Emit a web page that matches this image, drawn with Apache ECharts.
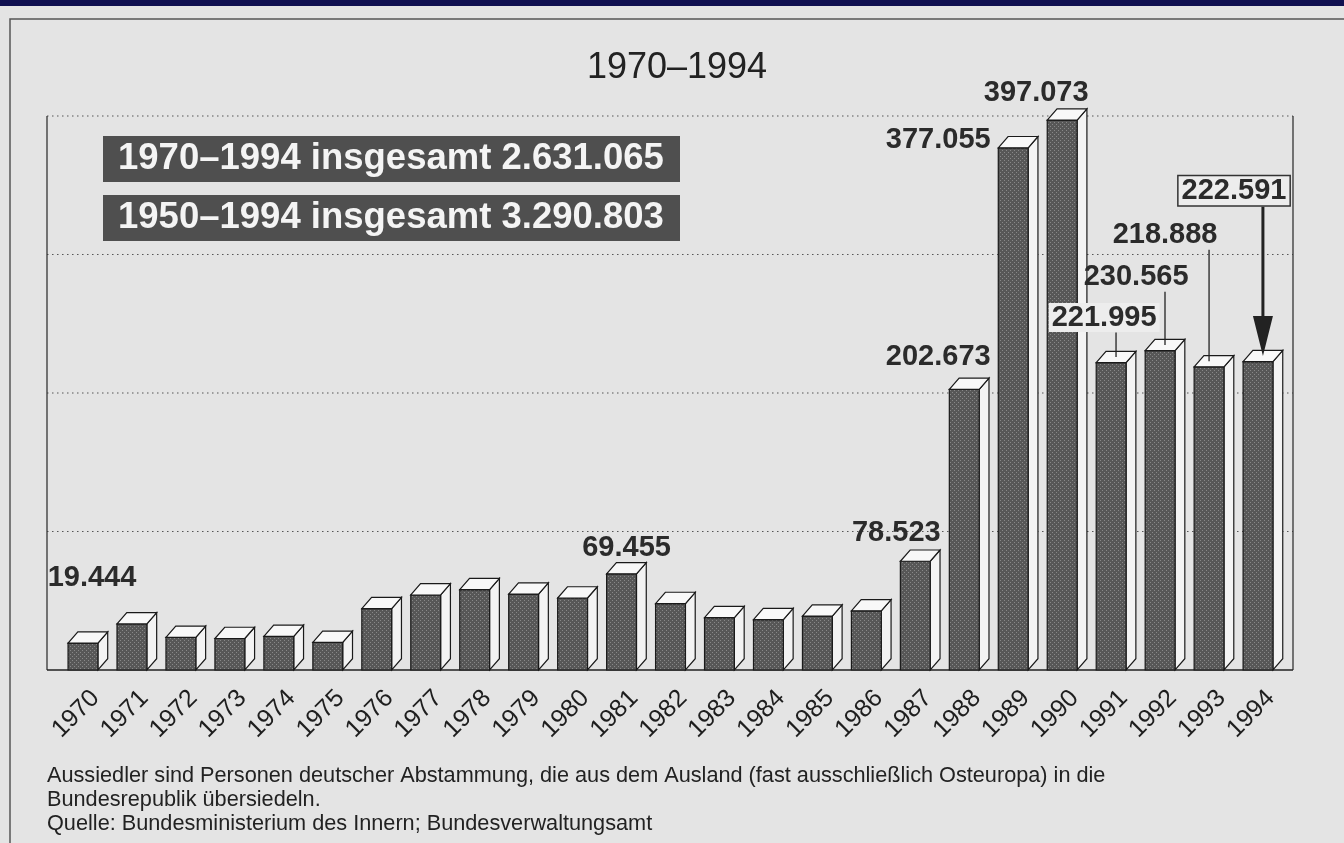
<!DOCTYPE html>
<html><head><meta charset="utf-8">
<script src="https://cdn.jsdelivr.net/npm/echarts@6/dist/echarts.min.js"></script>
<style>html,body{margin:0;padding:0;background:#e4e4e4;} #c{width:1344px;height:843px;}</style>
</head><body><div id="c"></div>
<script>
// ---- data ----
const years = ['1970','1971','1972','1973','1974','1975','1976','1977','1978','1979','1980','1981','1982','1983','1984','1985','1986','1987','1988','1989','1990','1991','1992','1993','1994'];
const aussiedler = [19444, 33272, 23580, 22732, 24315, 19940, 44248, 54169, 58062, 54802, 51984, 69455, 47993, 37844, 36387, 38905, 42729, 78523, 202673, 377055, 397073, 221995, 230565, 218888, 222591];
const yTicks = [0, 100000, 200000, 300000, 400000];
const titleText = '1970–1994';
const totals = ['1970–1994 insgesamt 2.631.065', '1950–1994 insgesamt 3.290.803'];
const notes = [
  'Aussiedler sind Personen deutscher Abstammung, die aus dem Ausland (fast ausschließlich Osteuropa) in die',
  'Bundesrepublik übersiedeln.',
  'Quelle: Bundesministerium des Innern; Bundesverwaltungsamt'
];

// ---- styles (label placement relative to bar top centre) ----
const FONT = 'Liberation Sans, Arial, Helvetica, sans-serif';
const labelStyle = {
  '1970': {dx: 9, dy: -65},
  '1981': {dx: 5, dy: -26},
  '1987': {dx: -19, dy: -28},
  '1988': {dx: -26, dy: -32},
  '1989': {dx: -75, dy: -8},
  '1990': {dx: -26, dy: -27},
  '1991': {dx: -7, dy: -45, box: 'plain', leader: true},
  '1992': {dx: -24, dy: -74, leader: true},
  '1993': {dx: -44, dy: -132, leader: true, leaderDx: 0},
  '1994': {dx: -24, dy: -171, box: 'border', arrow: true}
};
const tickLabelStyle = {dx: 12.6, dy: 24.4, font: '25px ' + FONT, fill: '#1e1e1e'};

function makePattern() {
  const c = document.createElement('canvas');
  c.width = 4; c.height = 4;
  const g = c.getContext('2d');
  g.fillStyle = '#575757'; g.fillRect(0, 0, 4, 4);
  g.fillStyle = '#888888';
  g.fillRect(0, 0, 1, 1); g.fillRect(2, 2, 1, 1);
  return {image: c, repeat: 'repeat'};
}
const pattern = makePattern();

const chart = echarts.init(document.getElementById('c'));

function renderItem(params, api) {
  const i = api.value(0), v = api.value(1);
  const base = api.coord([i, 0]);
  const top = api.coord([i, v]);
  const band = api.size([1, 0])[0];
  const w = band * 0.61, dx = band * 0.2, dy = band * 0.23;
  const cx = base[0], x0 = cx - w / 2, x1 = cx + w / 2, yb = base[1], yt = top[1];
  const edge = {stroke: '#1a1a1a', lineWidth: 1.2};
  const yr = years[i];
  const children = [
    {type: 'polygon', shape: {points: [[x1, yt], [x1 + dx, yt - dy], [x1 + dx, yb - dy], [x1, yb]]}, style: Object.assign({fill: '#f3f3f3'}, edge)},
    {type: 'rect', shape: {x: x0, y: yt, width: w, height: yb - yt}, style: Object.assign({fill: pattern}, edge)},
    {type: 'polygon', shape: {points: [[x0, yt], [x1, yt], [x1 + dx, yt - dy], [x0 + dx, yt - dy]]}, style: Object.assign({fill: '#f8f8f8'}, edge)},
    // category (year) label, rotated 45°
    {type: 'text', x: cx + tickLabelStyle.dx, y: yb + tickLabelStyle.dy, rotation: Math.PI / 4,
     style: {text: yr, font: tickLabelStyle.font, fill: tickLabelStyle.fill, align: 'right', verticalAlign: 'middle'}}
  ];
  const ls = labelStyle[yr];
  if (ls) {
    const lx = cx + ls.dx, ly = yt + ls.dy;
    const topCx = cx + (ls.leaderDx !== undefined ? ls.leaderDx : dx / 2), topCy = yt - dy / 2;
    if (ls.leader) {
      children.push({type: 'line', shape: {x1: topCx, y1: ly + 15, x2: topCx, y2: topCy}, style: {stroke: '#222', lineWidth: 1.3}});
    }
    if (ls.arrow) {
      children.push({type: 'line', shape: {x1: topCx, y1: ly + 16, x2: topCx, y2: topCy - 30}, style: {stroke: '#222', lineWidth: 3}});
      children.push({type: 'polygon', shape: {points: [[topCx - 10, topCy - 40], [topCx + 10, topCy - 40], [topCx, topCy]]}, style: {fill: '#222'}});
    }
    const txt = {
      type: 'text', x: lx, y: ly, z2: 10,
      style: {
        text: v.toLocaleString('de-DE'), font: 'bold 29px ' + FONT, fill: '#2b2b2b',
        align: 'center', verticalAlign: 'middle'
      }
    };
    if (ls.box) {
      txt.style.backgroundColor = '#ededed';
      txt.style.padding = [1, 3, -1, 3];
      if (ls.box === 'border') { txt.style.borderColor = '#333'; txt.style.borderWidth = 1.5; }
    }
    children.push(txt);
  }
  return {type: 'group', children: children};
}

const option = {
  backgroundColor: '#e4e4e4',
  animation: false,
  grid: {left: 58.5, right: 61.5, top: 116, bottom: 173},
  xAxis: {
    type: 'category', data: years,
    axisLine: {show: false}, axisTick: {show: false}, axisLabel: {show: false}
  },
  yAxis: {
    type: 'value', min: yTicks[0], max: yTicks[yTicks.length - 1], interval: yTicks[1] - yTicks[0],
    axisLabel: {show: false}, axisLine: {show: false}, axisTick: {show: false}, splitLine: {show: false}
  },
  series: [{
    type: 'custom', z: 5, clip: false,
    data: aussiedler.map((v, i) => [i, v]),
    encode: {x: 0, y: 1},
    renderItem: renderItem
  }]
};
chart.setOption(option);

// frame, gridlines and text furniture
const frameL = 47, frameR = 1293;
const yPix = yTicks.map(v => chart.convertToPixel({yAxisIndex: 0}, v));
const g = [];
g.push({type: 'rect', shape: {x: 0, y: 0, width: 1344, height: 6}, style: {fill: '#101050'}, z: 1});
g.push({type: 'polyline', shape: {points: [[10, 843], [10, 19], [1344, 19]]}, style: {stroke: '#555', lineWidth: 1.5, fill: null}, z: 1});
yPix.forEach((y, k) => {
  if (k === 0) return;
  g.push({type: 'line', shape: {x1: frameL, y1: y, x2: frameR, y2: y}, style: {stroke: '#555', lineWidth: 1, lineDash: [1.5, 3.5]}, z: 1});
});
g.push({type: 'line', shape: {x1: frameL, y1: yPix[yPix.length - 1], x2: frameL, y2: yPix[0]}, style: {stroke: '#333', lineWidth: 1.3}, z: 1});
g.push({type: 'line', shape: {x1: frameR, y1: yPix[yPix.length - 1], x2: frameR, y2: yPix[0]}, style: {stroke: '#333', lineWidth: 1.3}, z: 1});
g.push({type: 'line', shape: {x1: frameL, y1: yPix[0], x2: frameR, y2: yPix[0]}, style: {stroke: '#222', lineWidth: 1.5}, z: 1});
g.push({type: 'text', x: 677, y: 68, style: {text: titleText, font: '36px ' + FONT, fill: '#222', align: 'center', verticalAlign: 'middle'}, z: 20});
totals.forEach((t, k) => {
  const yc = 159 + k * 59;
  g.push({type: 'rect', shape: {x: 103, y: yc - 23, width: 577, height: 46}, style: {fill: '#4f4f4f'}, z: 20});
  g.push({type: 'text', x: 118, y: yc, style: {text: t, font: 'bold 36.5px ' + FONT, fill: '#f4f4f4', align: 'left', verticalAlign: 'middle'}, z: 21});
});
notes.forEach((t, k) => {
  g.push({type: 'text', x: 47, y: 776 + k * 24, style: {text: t, font: '21.7px ' + FONT, fill: '#222', align: 'left', verticalAlign: 'middle'}, z: 20});
});
chart.setOption({graphic: {elements: g}});
</script>
</body></html>
